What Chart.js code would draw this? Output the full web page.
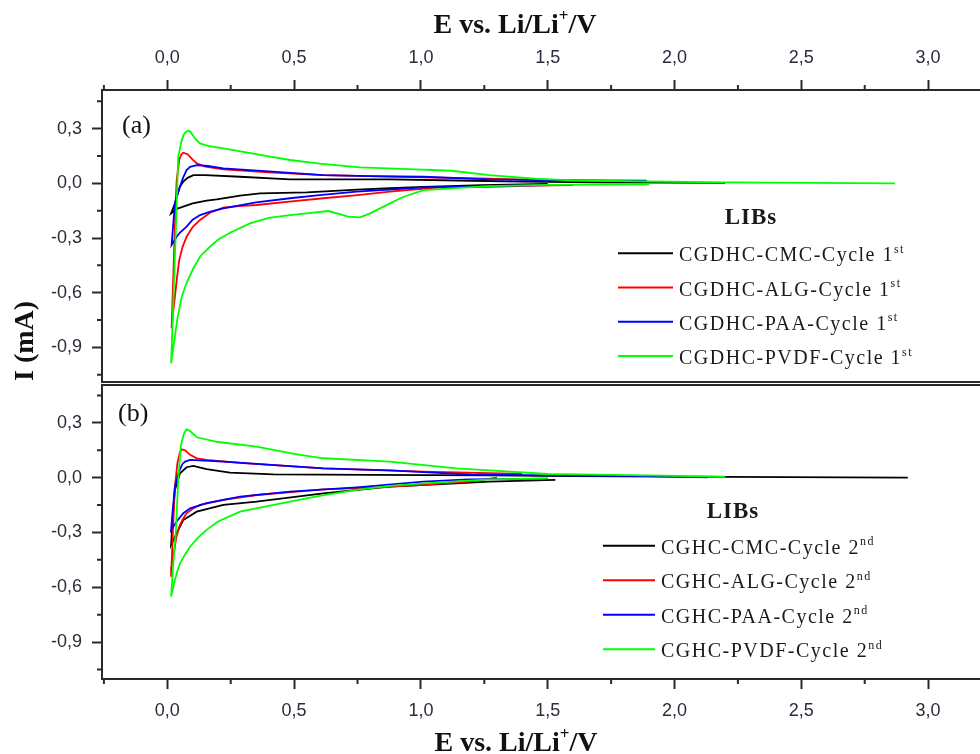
<!DOCTYPE html>
<html>
<head>
<meta charset="utf-8">
<script src="https://cdn.jsdelivr.net/npm/chart.js@4.4.1/dist/chart.umd.min.js"></script>
<style>
  html, body { margin: 0; padding: 0; background: #fff; }
  #wrap { position: relative; width: 980px; height: 754px; overflow: hidden; }
  #cA { position: absolute; left: 0; top: 0; }
  #cB { position: absolute; left: 0; top: 383px; }
</style>
</head>
<body>
<div id="wrap">
  <canvas id="cA" width="984" height="384"></canvas>
  <canvas id="cB" width="984" height="371"></canvas>
</div>
<script>
// ---- data: [E (V), I (mA)] ----
const xMajor = [0, 0.5, 1.0, 1.5, 2.0, 2.5, 3.0];
const xMinor = [-0.25, 0.25, 0.75, 1.25, 1.75, 2.25, 2.75, 3.25];
const yMajor = [-0.9, -0.6, -0.3, 0, 0.3];
const yMinor = [-1.05, -0.75, -0.45, -0.15, 0.15, 0.45];

const namesA = ['CGDHC-CMC-Cycle 1', 'CGDHC-ALG-Cycle 1', 'CGDHC-PAA-Cycle 1', 'CGDHC-PVDF-Cycle 1'];
const namesB = ['CGHC-CMC-Cycle 2', 'CGHC-ALG-Cycle 2', 'CGHC-PAA-Cycle 2', 'CGHC-PVDF-Cycle 2'];
const colors = ['#000000', '#ff0000', '#0000ff', '#00ff00'];

// cycle 1
const cmc1 = [[1.5,-0.003],[1.24,-0.01],[1.01,-0.02],[0.878,-0.027],[0.75,-0.035],[0.55,-0.05],[0.366,-0.055],[0.287,-0.068],[0.195,-0.088],[0.155,-0.095],[0.10,-0.11],[0.063,-0.128],[0.037,-0.14],[0.015,-0.165],
  [0.022,-0.14],[0.03,-0.11],[0.04,-0.06],[0.05,-0.018],[0.063,0.009],[0.08,0.03],[0.103,0.045],[0.15,0.045],[0.287,0.036],[0.484,0.022],[0.878,0.022],[1.2,0.014],[1.4,0.009],[1.7,0.005],[2.2,0.002]];
const alg1 = [[1.6,-0.01],[1.45,-0.012],[1.27,-0.02],[1.075,-0.022],[0.878,-0.046],[0.75,-0.065],[0.615,-0.082],[0.50,-0.098],[0.352,-0.119],[0.28,-0.125],[0.221,-0.134],[0.17,-0.16],[0.129,-0.201],[0.10,-0.24],[0.076,-0.293],[0.06,-0.35],[0.047,-0.421],[0.038,-0.52],[0.03,-0.622],[0.022,-0.72],[0.017,-0.795],
  [0.025,-0.45],[0.033,-0.1],[0.037,0.018],[0.047,0.128],[0.055,0.158],[0.063,0.168],[0.08,0.16],[0.10,0.13],[0.116,0.11],[0.15,0.092],[0.221,0.077],[0.40,0.06],[0.615,0.045],[1.01,0.033],[1.27,0.026],[1.4,0.02],[1.5,0.015]];
const paa1 = [[1.5,-0.01],[1.24,-0.015],[1.01,-0.022],[0.878,-0.035],[0.747,-0.046],[0.60,-0.065],[0.484,-0.082],[0.35,-0.105],[0.221,-0.137],[0.17,-0.155],[0.129,-0.174],[0.10,-0.2],[0.076,-0.238],[0.05,-0.27],[0.037,-0.293],[0.017,-0.338],
  [0.022,-0.25],[0.03,-0.11],[0.05,-0.018],[0.062,0.03],[0.076,0.073],[0.09,0.09],[0.116,0.10],[0.16,0.095],[0.221,0.082],[0.40,0.065],[0.615,0.045],[0.80,0.04],[1.01,0.036],[1.27,0.022],[1.5,0.018],[1.89,0.015]];
const pvdf1 = [[1.9,-0.005],[1.5,-0.008],[1.265,-0.015],[1.01,-0.037],[0.93,-0.075],[0.878,-0.11],[0.80,-0.165],[0.76,-0.187],[0.714,-0.183],[0.635,-0.152],[0.55,-0.165],[0.484,-0.174],[0.40,-0.19],[0.326,-0.22],[0.247,-0.271],[0.20,-0.31],[0.168,-0.348],[0.13,-0.40],[0.103,-0.466],[0.075,-0.55],[0.057,-0.622],[0.04,-0.74],[0.03,-0.84],[0.015,-0.987],
  [0.025,-0.6],[0.035,-0.2],[0.043,0.146],[0.057,0.237],[0.066,0.27],[0.08,0.289],[0.09,0.285],[0.11,0.245],[0.129,0.219],[0.16,0.205],[0.221,0.192],[0.30,0.172],[0.40,0.148],[0.484,0.128],[0.60,0.108],[0.76,0.088],[0.95,0.078],[1.12,0.069],[1.27,0.045],[1.45,0.025],[1.6,0.016],[1.9,0.01],[2.2,0.005],[2.87,0.0]];

// cycle 2
const cmc2 = [[1.53,-0.012],[1.27,-0.022],[1.14,-0.031],[0.878,-0.049],[0.615,-0.086],[0.352,-0.131],[0.221,-0.149],[0.116,-0.186],[0.063,-0.232],[0.037,-0.304],[0.015,-0.368],
  [0.022,-0.2],[0.03,-0.067],[0.05,0.024],[0.076,0.057],[0.103,0.064],[0.13,0.055],[0.155,0.046],[0.247,0.027],[0.418,0.018],[0.8,0.015],[1.27,0.012],[1.6,0.008],[2.2,0.004],[2.92,0.0]];
const alg2 = [[1.3,0.0],[1.2,-0.02],[1.01,-0.04],[0.80,-0.055],[0.615,-0.064],[0.50,-0.078],[0.352,-0.095],[0.221,-0.122],[0.129,-0.149],[0.10,-0.17],[0.076,-0.195],[0.06,-0.23],[0.047,-0.268],[0.035,-0.33],[0.03,-0.378],[0.022,-0.44],[0.017,-0.487],[0.015,-0.542],
  [0.022,-0.3],[0.03,-0.05],[0.04,0.08],[0.05,0.14],[0.057,0.155],[0.07,0.15],[0.09,0.125],[0.116,0.106],[0.155,0.097],[0.30,0.08],[0.615,0.051],[1.01,0.033],[1.27,0.024],[1.4,0.02]];
const paa2 = [[1.5,-0.005],[1.19,-0.01],[1.01,-0.022],[0.747,-0.053],[0.484,-0.077],[0.287,-0.104],[0.155,-0.14],[0.09,-0.168],[0.063,-0.195],[0.037,-0.24],[0.015,-0.286],
  [0.02,-0.2],[0.03,-0.05],[0.045,0.03],[0.06,0.075],[0.07,0.088],[0.09,0.097],[0.221,0.088],[0.615,0.051],[0.878,0.04],[1.2,0.016],[1.5,0.012],[1.89,0.008],[2.13,0.002]];
const pvdf2 = [[1.5,-0.004],[1.27,-0.009],[1.01,-0.031],[0.878,-0.045],[0.747,-0.067],[0.60,-0.1],[0.484,-0.131],[0.38,-0.16],[0.287,-0.186],[0.20,-0.24],[0.155,-0.286],[0.12,-0.33],[0.09,-0.378],[0.07,-0.42],[0.05,-0.469],[0.04,-0.51],[0.03,-0.56],[0.015,-0.651],
  [0.022,-0.5],[0.034,-0.286],[0.043,-0.013],[0.053,0.17],[0.065,0.24],[0.076,0.265],[0.09,0.255],[0.116,0.221],[0.20,0.195],[0.352,0.17],[0.50,0.13],[0.615,0.106],[0.878,0.088],[1.14,0.051],[1.27,0.04],[1.5,0.02],[1.89,0.012],[2.2,0.005]];

const SERIF = "'Liberation Serif', 'Times New Roman', serif";
const SANS = "'Liberation Sans', Arial, sans-serif";
const FRAME = '#2a2a2a';
const TICKTXT = '#2b2b3a';

const fmt = v => v.toFixed(1).replace('.', ',');

// text with optional superscript parts
function drawRich(ctx, parts, x, y, size, weight, align, spacing) {
  const base = weight + ' ' + size + 'px ' + SERIF;
  const sup = weight + ' ' + Math.round(size * 0.6) + 'px ' + SERIF;
  ctx.letterSpacing = spacing || '0px';
  let w = 0;
  parts.forEach(p => { ctx.font = p.sup ? sup : base; w += ctx.measureText(p.t).width; });
  let cx = align === 'center' ? x - w / 2 : x;
  ctx.textAlign = 'left';
  ctx.textBaseline = 'alphabetic';
  parts.forEach(p => {
    ctx.font = p.sup ? sup : base;
    ctx.fillText(p.t, cx, p.sup ? y - size * 0.42 : y);
    cx += ctx.measureText(p.t).width;
  });
  ctx.letterSpacing = '0px';
}

const decor = {
  id: 'decor',
  afterDraw(chart, args, opts) {
    const ctx = chart.ctx, a = chart.chartArea;
    const sx = chart.scales.x, sy = chart.scales.y;
    ctx.save();
    ctx.strokeStyle = FRAME;
    ctx.lineWidth = 2;
    ctx.beginPath();
    xMinor.forEach(v => {
      const px = sx.getPixelForValue(v);
      if (opts.xSide === 'top') { ctx.moveTo(px, a.top); ctx.lineTo(px, a.top - 5); }
      else { ctx.moveTo(px, a.bottom); ctx.lineTo(px, a.bottom + 5); }
    });
    yMinor.forEach(v => {
      const py = sy.getPixelForValue(v);
      ctx.moveTo(a.left, py); ctx.lineTo(a.left - 5, py);
    });
    ctx.stroke();
    ctx.strokeRect(a.left, a.top, a.right - a.left, a.bottom - a.top);

    ctx.fillStyle = '#111';
    opts.texts.forEach(t => {
      if (t.rotate) {
        ctx.save();
        ctx.translate(t.x, t.y);
        ctx.rotate(-Math.PI / 2);
        drawRich(ctx, t.parts, 0, 0, t.size, t.weight, t.align);
        ctx.restore();
      } else {
        drawRich(ctx, t.parts, t.x, t.y, t.size, t.weight, t.align);
      }
    });

    // legend
    const L = opts.legend;
    ctx.fillStyle = '#1a1a1a';
    drawRich(ctx, [{ t: L.title }], L.titleX, L.titleY, 23, 'bold', 'center', '1px');
    chart.data.datasets.forEach((ds, i) => {
      const y = L.y0 + i * L.dy;
      ctx.strokeStyle = ds.borderColor;
      ctx.lineWidth = 2;
      ctx.beginPath();
      ctx.moveTo(L.lineX0, y); ctx.lineTo(L.lineX1, y);
      ctx.stroke();
      ctx.fillStyle = '#1a1a1a';
      drawRich(ctx, [{ t: ds.label }, { t: L.sup, sup: true }], L.textX, y + 8, 20, 'normal', 'left', '1.5px');
    });
    ctx.restore();
  }
};

function makeDatasets(names, series) {
  return series.map((s, i) => ({
    label: names[i],
    data: s,
    borderColor: colors[i],
    backgroundColor: colors[i],
    borderWidth: 1.8,
    showLine: true,
    pointRadius: 0,
    tension: 0,
    order: 3 - i
  }));
}

function makeScales(side, yMin, yMax, xHeight) {
  return {
    x: {
      type: 'linear',
      position: side,
      min: -0.2575,
      max: 3.2125,
      afterBuildTicks: s => { s.ticks = xMajor.map(v => ({ value: v })); },
      afterFit: s => { s.height = xHeight; s.paddingLeft = 0; s.paddingRight = 0; s.paddingTop = 0; s.paddingBottom = 0; },
      border: { display: false },
      grid: { drawOnChartArea: false, drawTicks: true, tickLength: 10, tickWidth: 2, tickColor: FRAME },
      ticks: { autoSkip: false, maxRotation: 0, padding: 11, color: TICKTXT, font: { family: SANS, size: 18 }, callback: v => fmt(v) }
    },
    y: {
      type: 'linear',
      min: yMin,
      max: yMax,
      afterBuildTicks: s => { s.ticks = yMajor.map(v => ({ value: v })); },
      afterFit: s => { s.width = 102; s.paddingLeft = 0; s.paddingRight = 0; s.paddingTop = 0; s.paddingBottom = 0; },
      border: { display: false },
      grid: { drawOnChartArea: false, drawTicks: true, tickLength: 10, tickWidth: 2, tickColor: FRAME },
      ticks: { autoSkip: false, padding: 10, color: TICKTXT, font: { family: SANS, size: 18 }, callback: v => fmt(v) }
    }
  };
}

const common = {
  responsive: false,
  animation: false,
  events: [],
  plugins: { legend: { display: false }, tooltip: { enabled: false } }
};

new Chart(document.getElementById('cA'), {
  type: 'scatter',
  data: { datasets: makeDatasets(namesA, [cmc1, alg1, paa1, pvdf1]) },
  options: {
    ...common,
    layout: { padding: { left: 0, right: 2, top: 0, bottom: 2 } },
    scales: makeScales('top', -1.09, 0.512, 90),
    plugins: {
      ...common.plugins,
      decor: {
        xSide: 'top',
        texts: [
          { parts: [{ t: 'E vs. Li/Li' }, { t: '+', sup: true }, { t: '/V' }], x: 515, y: 33, size: 28, weight: 'bold', align: 'center' },
          { parts: [{ t: 'I (mA)' }], x: 33, y: 381, size: 28, weight: 'bold', align: 'left', rotate: true },
          { parts: [{ t: '(a)' }], x: 122, y: 133, size: 26, weight: 'normal', align: 'left' }
        ],
        legend: { title: 'LIBs', titleX: 751, titleY: 224, lineX0: 618, lineX1: 673, textX: 679, y0: 253.3, dy: 34.2, sup: 'st' }
      }
    }
  },
  plugins: [decor]
});

new Chart(document.getElementById('cB'), {
  type: 'scatter',
  data: { datasets: makeDatasets(namesB, [cmc2, alg2, paa2, pvdf2]) },
  options: {
    ...common,
    layout: { padding: { left: 0, right: 2, top: 2, bottom: 0 } },
    scales: makeScales('bottom', -1.102, 0.507, 75),
    plugins: {
      ...common.plugins,
      decor: {
        xSide: 'bottom',
        texts: [
          { parts: [{ t: 'E vs. Li/Li' }, { t: '+', sup: true }, { t: '/V' }], x: 516, y: 368, size: 28, weight: 'bold', align: 'center' },
          { parts: [{ t: '(b)' }], x: 118, y: 38, size: 26, weight: 'normal', align: 'left' }
        ],
        legend: { title: 'LIBs', titleX: 733, titleY: 135, lineX0: 603, lineX1: 655, textX: 661, y0: 162.7, dy: 34.5, sup: 'nd' }
      }
    }
  },
  plugins: [decor]
});
</script>
</body>
</html>
